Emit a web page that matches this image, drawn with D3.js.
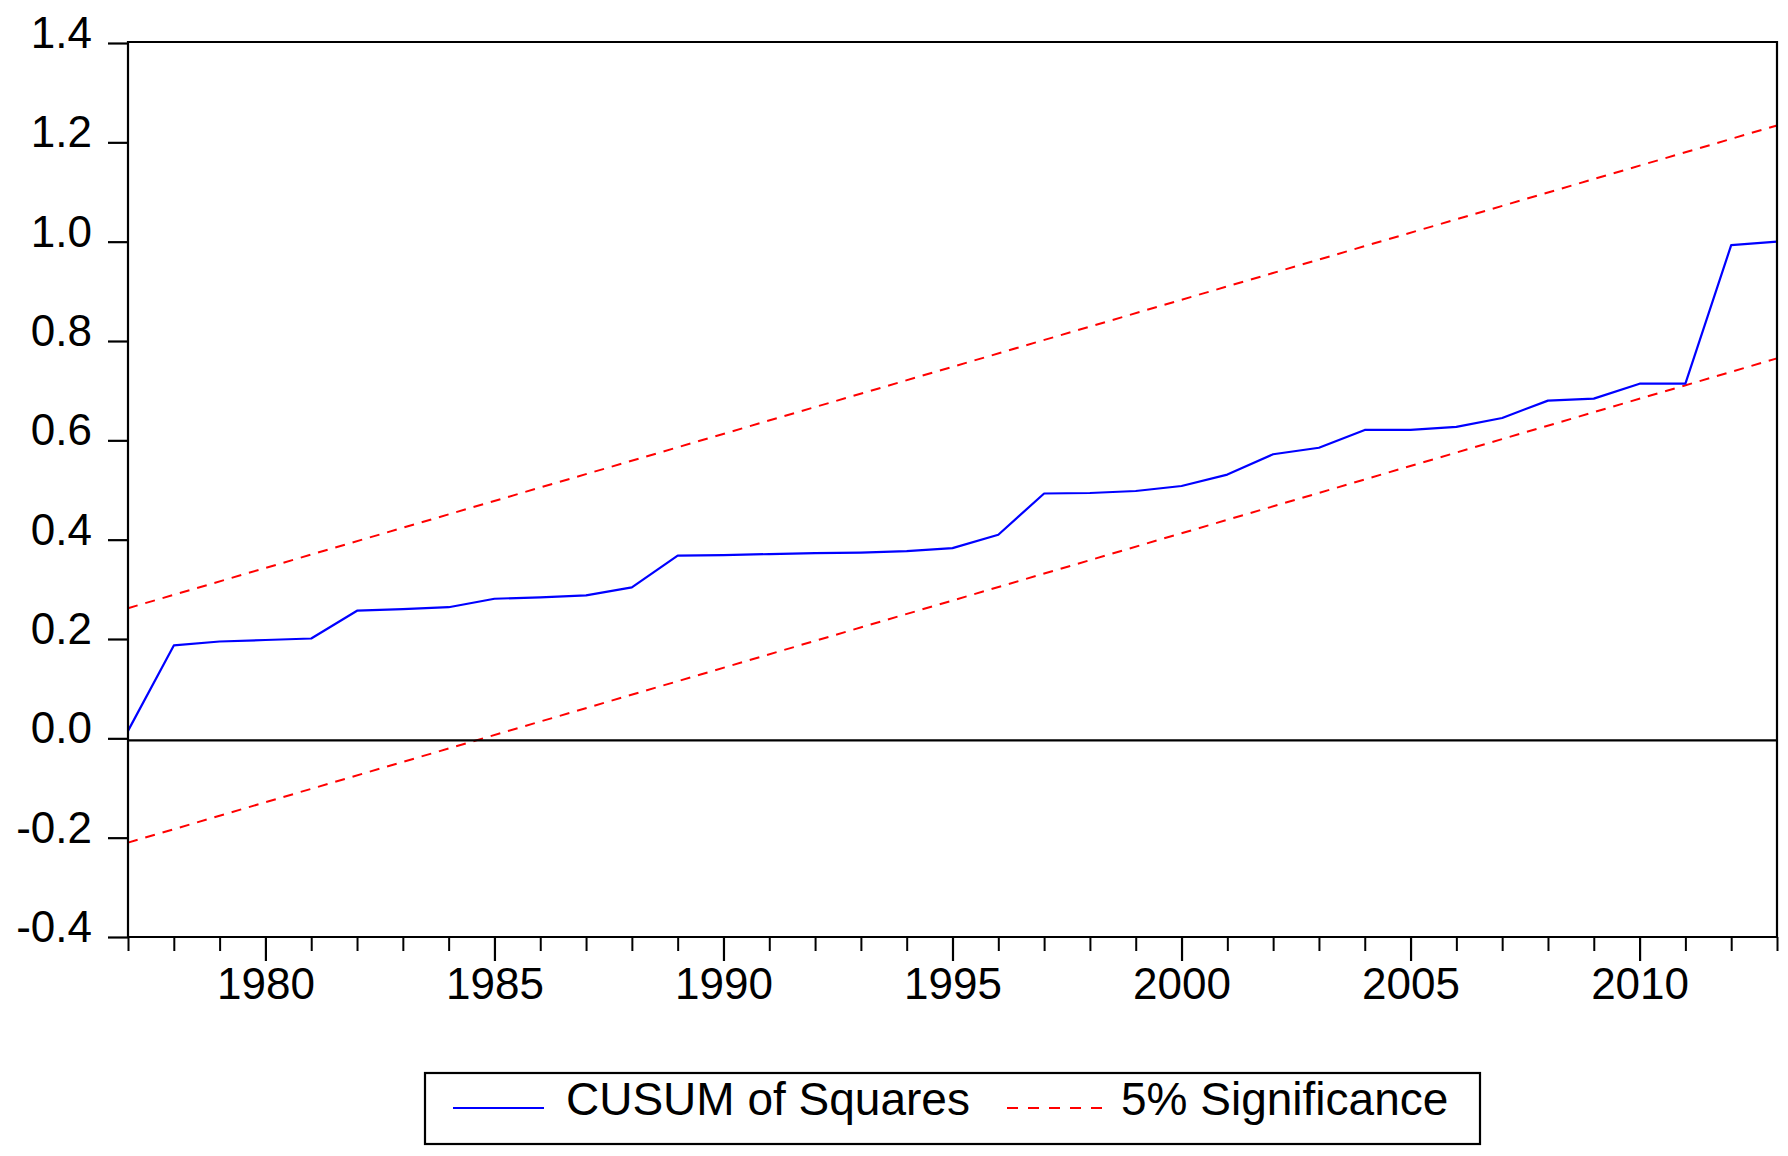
<!DOCTYPE html>
<html>
<head>
<meta charset="utf-8">
<script src="https://cdn.jsdelivr.net/npm/d3@7"></script>
<style>
  html, body { margin: 0; padding: 0; background: #fff; }
  svg { display: block; }
  text { font-family: Arial, "Liberation Sans", sans-serif; fill: #000; }
</style>
</head>
<body>
<svg id="chart" width="1788" height="1156"></svg>
<script>
// ---- data ----
const years = [1977,1978,1979,1980,1981,1982,1983,1984,1985,1986,1987,1988,1989,1990,1991,1992,1993,1994,1995,1996,1997,1998,1999,2000,2001,2002,2003,2004,2005,2006,2007,2008,2009,2010,2011,2012,2013];
const cusumSq = [0.015,0.187,0.195,0.198,0.201,0.257,0.260,0.264,0.281,0.284,0.288,0.304,0.368,0.369,0.371,0.373,0.374,0.377,0.383,0.410,0.493,0.494,0.498,0.508,0.531,0.572,0.585,0.621,0.621,0.627,0.645,0.680,0.684,0.714,0.714,0.993,1.000];
const bandYears = [1977, 2013];
const upperBand = [0.262, 1.234];
const lowerBand = [-0.210, 0.765];
const yTickValues = [-0.4,-0.2,0.0,0.2,0.4,0.6,0.8,1.0,1.2,1.4];
const yTickLabels = ["-0.4","-0.2","0.0","0.2","0.4","0.6","0.8","1.0","1.2","1.4"];
const xMajorTicks = [1980,1985,1990,1995,2000,2005,2010];
const legendLabels = ["CUSUM of Squares","5% Significance"];

// ---- layout ----
const svg = d3.select("#chart");
const pL = 128, pR = 1777, pT = 43, pB = 937;
const x = d3.scaleLinear().domain([1977, 2013]).range([pL, pR]);
const y = d3.scaleLinear().domain([-0.4, 1.4]).range([pB, pT]);

// significance bands
const lineGen = d3.line().x(d => x(d[0])).y(d => y(d[1]));
[upperBand, lowerBand].forEach(band => {
  svg.append("path")
    .datum(bandYears.map((yr, i) => [yr, band[i]]))
    .attr("d", lineGen)
    .attr("fill", "none")
    .attr("stroke", "#ff0000")
    .attr("stroke-width", 2)
    .attr("stroke-dasharray", "10,8");
});

// CUSUM of squares
svg.append("path")
  .datum(years.map((yr, i) => [yr, cusumSq[i]]))
  .attr("d", lineGen)
  .attr("fill", "none")
  .attr("stroke", "#0000ff")
  .attr("stroke-width", 2.2)
  .attr("stroke-linejoin", "round");

// zero line
svg.append("line")
  .attr("x1", pL).attr("x2", pR)
  .attr("y1", y(0) + 2).attr("y2", y(0) + 2)
  .attr("stroke", "#000").attr("stroke-width", 2.2);

// frame (top & right)
svg.append("path")
  .attr("d", `M${pL},${pT - 1}H${pR}V${pB}`)
  .attr("fill", "none").attr("stroke", "#000").attr("stroke-width", 2.2);

// y axis
const yAxis = svg.append("g")
  .attr("transform", `translate(${pL},0)`)
  .call(d3.axisLeft(y).tickValues(yTickValues)
        .tickFormat((d, i) => yTickLabels[i])
        .tickSize(20).tickPadding(16));
yAxis.select(".domain").attr("stroke-width", 2.2).attr("d", `M0,${pT - 2}V${pB}`);
yAxis.selectAll(".tick line").attr("stroke-width", 2.2);
yAxis.selectAll(".tick text")
  .attr("font-size", 44)
  .attr("font-family", "Arial, 'Liberation Sans', sans-serif")
  .attr("dy", "0.1em");

// x axis minor ticks
const xMinor = svg.append("g")
  .attr("transform", `translate(0,${pB})`)
  .call(d3.axisBottom(x).tickValues(years.filter(v => xMajorTicks.indexOf(v) < 0))
        .tickSize(14).tickFormat(""));
xMinor.select(".domain").attr("stroke-width", 2.2).attr("d", `M${pL - 1},0H${pR + 1}`);
xMinor.selectAll(".tick line").attr("stroke-width", 2);

// x axis major ticks
const xMajor = svg.append("g")
  .attr("transform", `translate(0,${pB})`)
  .call(d3.axisBottom(x).tickValues(xMajorTicks)
        .tickSize(24).tickPadding(7).tickFormat(d3.format("d")));
xMajor.select(".domain").remove();
xMajor.selectAll(".tick line").attr("stroke-width", 2.2);
xMajor.selectAll(".tick text")
  .attr("font-size", 44)
  .attr("font-family", "Arial, 'Liberation Sans', sans-serif");

// legend
const lg = svg.append("g");
lg.append("rect")
  .attr("x", 425).attr("y", 1073).attr("width", 1055).attr("height", 71)
  .attr("fill", "#fff").attr("stroke", "#000").attr("stroke-width", 2.2);
lg.append("line")
  .attr("x1", 453).attr("x2", 544).attr("y1", 1108).attr("y2", 1108)
  .attr("stroke", "#0000ff").attr("stroke-width", 2.2);
lg.append("text")
  .attr("x", 566).attr("y", 1115)
  .attr("font-size", 46)
  .text(legendLabels[0]);
lg.append("line")
  .attr("x1", 1007).attr("x2", 1102).attr("y1", 1108).attr("y2", 1108)
  .attr("stroke", "#ff0000").attr("stroke-width", 2)
  .attr("stroke-dasharray", "11,10");
lg.append("text")
  .attr("x", 1121).attr("y", 1115)
  .attr("font-size", 46)
  .text(legendLabels[1]);
</script>
</body>
</html>
